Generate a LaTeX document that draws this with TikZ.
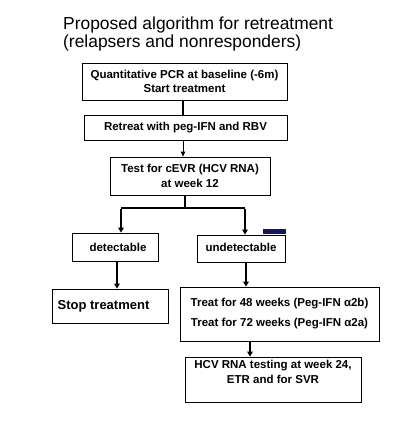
\documentclass[tikz,border=0pt]{standalone}
\usepackage{fontspec}
\setmainfont{Liberation Sans}
\usetikzlibrary{arrows.meta}
\begin{document}
\begin{tikzpicture}[x=1pt,y=-1pt,
  box/.style={draw=black,line width=0.8pt,inner sep=0pt,font=\fontsize{11.5}{14.5}\selectfont\bfseries,align=center},
  thickline/.style={line width=2.4pt},
  arr/.style={line width=2.4pt,-{Triangle[length=5pt,width=5.5pt]}},
  thinarr/.style={line width=0.9pt,-{Triangle[length=5pt,width=4.5pt]}}]
\useasboundingbox[fill=white] (0,0) rectangle (417,424);
\node[anchor=north west,align=left,inner sep=0pt,font=\fontsize{17.4}{15.5}\selectfont] (title) at (63,17)
  {Proposed algorithm for retreatment\\(relapsers and nonresponders)};
\node[box,minimum width=205pt,minimum height=37pt] (b1) at (184.5,81.5)
  {Quantitative PCR at baseline (-6m)\\Start treatment};
\node[box,minimum width=203pt,minimum height=25pt] (b2) at (185.5,127.5)
  {Retreat with peg-IFN and RBV};
\node[box,minimum width=160pt,minimum height=38pt,font=\fontsize{11.5}{15}\selectfont\bfseries] (b3) at (190,176)
  {Test for cEVR (HCV RNA)\\at week 12};
\node[box,minimum width=86pt,minimum height=28pt] (det) at (115,247)
  {\hspace*{6pt}detectable};
\node[box,minimum width=88pt,minimum height=27pt] (undet) at (241,248.5)
  {\raisebox{3pt}{undetectable}};
\node[box,minimum width=116pt,minimum height=34pt,font=\fontsize{13}{15}\selectfont\bfseries] (stop) at (110,306)
  {Stop treatment\hspace*{13pt}};
\node[box,minimum width=199pt,minimum height=54pt,font=\fontsize{11.5}{20}\selectfont\bfseries] (treat) at (279.5,314)
  {Treat for 48 weeks (Peg-IFN α2b)\\Treat for 72 weeks (Peg-IFN α2a)};
\node[box,minimum width=176pt,minimum height=45pt,font=\fontsize{11.5}{15}\selectfont\bfseries] (hcv) at (273,379.5)
  {HCV RNA testing at week 24,\\ETR and for SVR\\[-5pt]\strut};
\coordinate (j) at (185,208);
\coordinate (jl) at (121,208);
\coordinate (jr) at (245,208);
\coordinate (c1) at (183,0);
\coordinate (c2) at (117,0);
\coordinate (c3) at (246,0);
\coordinate (c4) at (250,0);
\draw[thickline] (b1.south -| c1) -- (b2.north -| c1);
\draw[thinarr] (b2.south -| c1) -- (b3.north -| c1);
\draw[thickline] (b3.south -| j) -- (j);
\draw[thickline] (jl) -- (jr);
\draw[arr] ([yshift=-1.2pt]jl) -- (det.north -| jl);
\draw[arr] ([yshift=-1.2pt]jr) -- (undet.north -| jr);
\draw[arr] (det.south -| c2) -- (stop.north -| c2);
\draw[arr] (undet.south -| c3) -- (treat.north -| c3);
\draw[arr] (treat.south -| c4) -- (hcv.north -| c4);
\fill[fill={rgb,255:red,20;green,20;blue,100}] (263,229) rectangle (286,233.5);
\end{tikzpicture}
\end{document}
